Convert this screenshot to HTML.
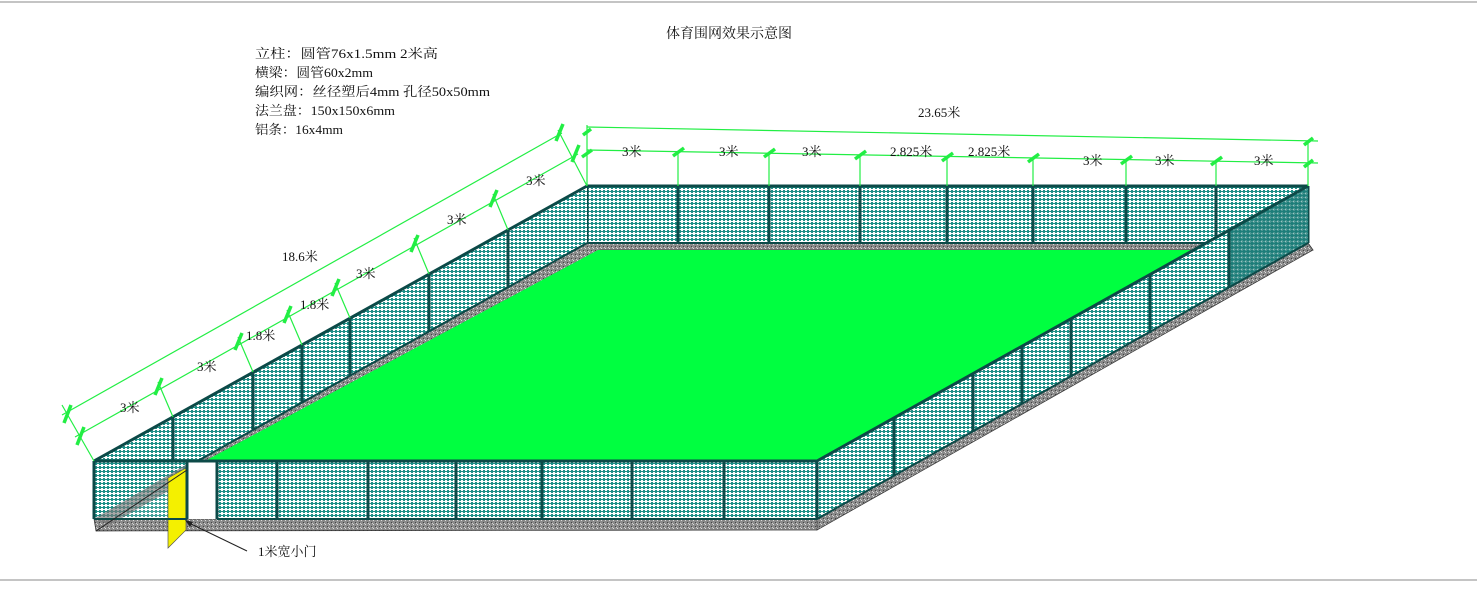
<!DOCTYPE html>
<html><head><meta charset="utf-8"><style>
html,body{margin:0;padding:0;background:#fff;}
svg{display:block;}
text{font-family:"Liberation Serif","Noto Serif CJK SC",serif;fill:#111;}
</style></head><body>
<svg width="1477" height="598" viewBox="0 0 1477 598" xmlns="http://www.w3.org/2000/svg">
<defs>
<pattern id="m" width="4" height="4" patternUnits="userSpaceOnUse">
<rect width="4" height="4" fill="#1f9088"/>
<rect x="1" y="0" width="2" height="3" fill="#fff"/><rect x="0" y="1" width="4" height="1" fill="#fff"/>
</pattern>
<pattern id="md" width="4" height="4" patternUnits="userSpaceOnUse">
<rect width="4" height="4" fill="#1d7a76"/><rect x="1" y="1" width="1" height="1" fill="#7fb8b4"/>
</pattern>
<pattern id="g" width="4" height="4" patternUnits="userSpaceOnUse">
<rect width="4" height="4" fill="#8a8a8a"/><rect x="1" y="0" width="1" height="1" fill="#ddd"/><rect x="3" y="2" width="1" height="1" fill="#444"/><rect x="0" y="3" width="1" height="1" fill="#ccc"/>
</pattern>
</defs>
<line x1="0" y1="2" x2="1477" y2="2" stroke="#888"/>
<line x1="0" y1="580" x2="1477" y2="580" stroke="#888"/>

<text x="666" y="38" font-size="14">体育围网效果示意图</text>
<g font-size="13">
<text x="255" y="58" textLength="183" lengthAdjust="spacingAndGlyphs">立柱：圆管76x1.5mm  2米高</text>
<text x="255" y="77" textLength="118" lengthAdjust="spacingAndGlyphs">横梁：圆管60x2mm</text>
<text x="255" y="96" textLength="235" lengthAdjust="spacingAndGlyphs">编织网：丝径塑后4mm  孔径50x50mm</text>
<text x="255" y="115" textLength="140" lengthAdjust="spacingAndGlyphs">法兰盘：150x150x6mm</text>
<text x="255" y="134" textLength="88" lengthAdjust="spacingAndGlyphs">铝条：16x4mm</text>
</g>

<!-- slabs -->
<polygon points="587,243 1308,243 1313,250 587,250" fill="url(#g)" stroke="#333" stroke-width="0.7"/>
<polygon points="94,519 587,243 600,250 110,525" fill="url(#g)"/>
<polygon points="817,519 1308,243 1313,250 817,530" fill="url(#g)" stroke="#333" stroke-width="0.7"/>
<polygon points="94,519 817,519 817,530 96,531" fill="url(#g)" stroke="#333" stroke-width="0.7"/>

<!-- back fence -->
<rect x="587" y="186" width="721" height="57" fill="url(#m)"/>
<g stroke="#0c4a48" stroke-width="3">
<line x1="587" y1="186" x2="1308" y2="186"/><line x1="587" y1="243" x2="1308" y2="243" stroke-width="2"/>
<line x1="587" y1="186" x2="587" y2="243"/><line x1="678" y1="186" x2="678" y2="243"/><line x1="769" y1="186" x2="769" y2="243"/><line x1="860" y1="186" x2="860" y2="243"/><line x1="947" y1="186" x2="947" y2="243"/><line x1="1033" y1="186" x2="1033" y2="243"/><line x1="1126" y1="186" x2="1126" y2="243"/><line x1="1216" y1="186" x2="1216" y2="243"/><line x1="1308" y1="186" x2="1308" y2="243"/>
</g>

<!-- green field -->
<polygon points="598,250 1230,250 817,461 205,461" fill="#00ff40"/>

<!-- left fence -->
<polygon points="94,461 587,186 587,243 94,519" fill="url(#m)"/>
<g stroke="#0c4a48" stroke-width="3">
<line x1="94" y1="461" x2="587" y2="186"/><line x1="94" y1="519" x2="587" y2="243" stroke-width="2"/>
<line x1="173" y1="417" x2="173" y2="475"/><line x1="253" y1="372" x2="253" y2="430"/><line x1="302" y1="345" x2="302" y2="403"/><line x1="350" y1="318" x2="350" y2="376"/><line x1="429" y1="274" x2="429" y2="332"/><line x1="508" y1="230" x2="508" y2="288"/>
</g>

<!-- right fence -->
<polygon points="817,461 1308,186 1308,243 817,519" fill="url(#m)"/>
<polygon points="1229,230 1308,186 1308,243 1229,287" fill="url(#md)" opacity="0.8"/>
<g stroke="#0c4a48" stroke-width="3">
<line x1="817" y1="461" x2="1308" y2="186"/><line x1="817" y1="519" x2="1308" y2="243" stroke-width="2"/>
<line x1="894" y1="418" x2="894" y2="476"/><line x1="973" y1="374" x2="973" y2="432"/><line x1="1022" y1="346" x2="1022" y2="404"/><line x1="1071" y1="319" x2="1071" y2="377"/><line x1="1150" y1="275" x2="1150" y2="333"/><line x1="1229" y1="230" x2="1229" y2="288"/>
</g>

<!-- front fence -->
<rect x="94" y="461" width="93" height="58" fill="url(#m)" opacity="0.85"/>
<rect x="187" y="461" width="30" height="58" fill="#fff"/>
<rect x="217" y="461" width="600" height="58" fill="url(#m)"/>
<polygon points="94,519 187,464 187,480 110,525" fill="#777" opacity="0.6"/>
<polygon points="168,478 186,468 186,530 168,548" fill="#f4f000" stroke="#555" stroke-width="0.7"/>
<g stroke="#0c4a48" stroke-width="3">
<line x1="94" y1="461" x2="817" y2="461"/><line x1="94" y1="519" x2="187" y2="519" stroke-width="2"/><line x1="217" y1="519" x2="817" y2="519" stroke-width="2"/>
<line x1="94" y1="461" x2="94" y2="519"/><line x1="187" y1="461" x2="187" y2="519"/><line x1="217" y1="461" x2="217" y2="519"/><line x1="277" y1="461" x2="277" y2="519"/><line x1="368" y1="461" x2="368" y2="519"/><line x1="456" y1="461" x2="456" y2="519"/><line x1="542" y1="461" x2="542" y2="519"/><line x1="632" y1="461" x2="632" y2="519"/><line x1="724" y1="461" x2="724" y2="519"/><line x1="817" y1="461" x2="817" y2="519"/>
</g>
<line x1="96" y1="531" x2="187" y2="470" stroke="#222" stroke-width="1"/>
<line x1="187" y1="522" x2="247" y2="551" stroke="#222" stroke-width="1"/>
<polygon points="185,520 193,522 190,527" fill="#222"/>
<text x="258" y="556" font-size="13">1米宽小门</text>

<!-- dimension lines -->
<g stroke="#22ee44" stroke-width="1.2" fill="none">
<line x1="587" y1="127" x2="1318" y2="141"/>
<line x1="587" y1="150" x2="1318" y2="163"/>
<line x1="587" y1="125" x2="587" y2="186"/>
<line x1="678" y1="152" x2="678" y2="186"/><line x1="769" y1="153" x2="769" y2="186"/><line x1="860" y1="155" x2="860" y2="186"/><line x1="947" y1="157" x2="947" y2="186"/><line x1="1033" y1="158" x2="1033" y2="186"/><line x1="1126" y1="160" x2="1126" y2="186"/><line x1="1216" y1="161" x2="1216" y2="186"/><line x1="1308" y1="140" x2="1308" y2="186"/>
<line x1="62" y1="415" x2="562" y2="133"/>
<line x1="75" y1="437" x2="578" y2="154"/>
<line x1="62" y1="405" x2="94" y2="461"/><line x1="558" y1="130" x2="587" y2="186"/>
<line x1="158" y1="382" x2="173" y2="417"/><line x1="238" y1="337" x2="253" y2="372"/><line x1="287" y1="310" x2="302" y2="345"/><line x1="335" y1="283" x2="350" y2="318"/><line x1="414" y1="238" x2="429" y2="274"/><line x1="493" y1="194" x2="508" y2="230"/>
</g>
<g stroke="#22ee44" stroke-width="3.5">
<line x1="583" y1="135" x2="591" y2="129"/><line x1="582" y1="157" x2="592" y2="150"/>
<line x1="673" y1="156" x2="684" y2="148"/><line x1="764" y1="157" x2="775" y2="149"/><line x1="855" y1="159" x2="866" y2="151"/><line x1="942" y1="161" x2="953" y2="153"/><line x1="1028" y1="162" x2="1039" y2="154"/><line x1="1121" y1="164" x2="1132" y2="156"/><line x1="1211" y1="165" x2="1222" y2="157"/>
<line x1="1304" y1="145" x2="1313" y2="138"/><line x1="1304" y1="167" x2="1313" y2="160"/>
<line x1="64" y1="423" x2="71" y2="405"/><line x1="77" y1="445" x2="84" y2="427"/>
<line x1="556" y1="141" x2="563" y2="124"/><line x1="572" y1="162" x2="579" y2="145"/>
<line x1="155" y1="395" x2="162" y2="378"/><line x1="235" y1="350" x2="242" y2="333"/><line x1="284" y1="323" x2="291" y2="306"/><line x1="332" y1="296" x2="339" y2="279"/><line x1="411" y1="252" x2="418" y2="235"/><line x1="490" y1="207" x2="497" y2="190"/>
</g>
<g font-size="13">
<text x="918" y="117">23.65米</text>
<text x="622" y="156">3米</text><text x="719" y="156">3米</text><text x="802" y="156">3米</text><text x="890" y="156">2.825米</text><text x="968" y="156">2.825米</text><text x="1083" y="165">3米</text><text x="1155" y="165">3米</text><text x="1254" y="165">3米</text>
<text x="282" y="261" fill="#555">18.6米</text>
<text x="120" y="412">3米</text><text x="197" y="371">3米</text><text x="246" y="340">1.8米</text><text x="300" y="309">1.8米</text><text x="356" y="278">3米</text><text x="447" y="224">3米</text><text x="526" y="185">3米</text>
</g>
</svg>
</body></html>
